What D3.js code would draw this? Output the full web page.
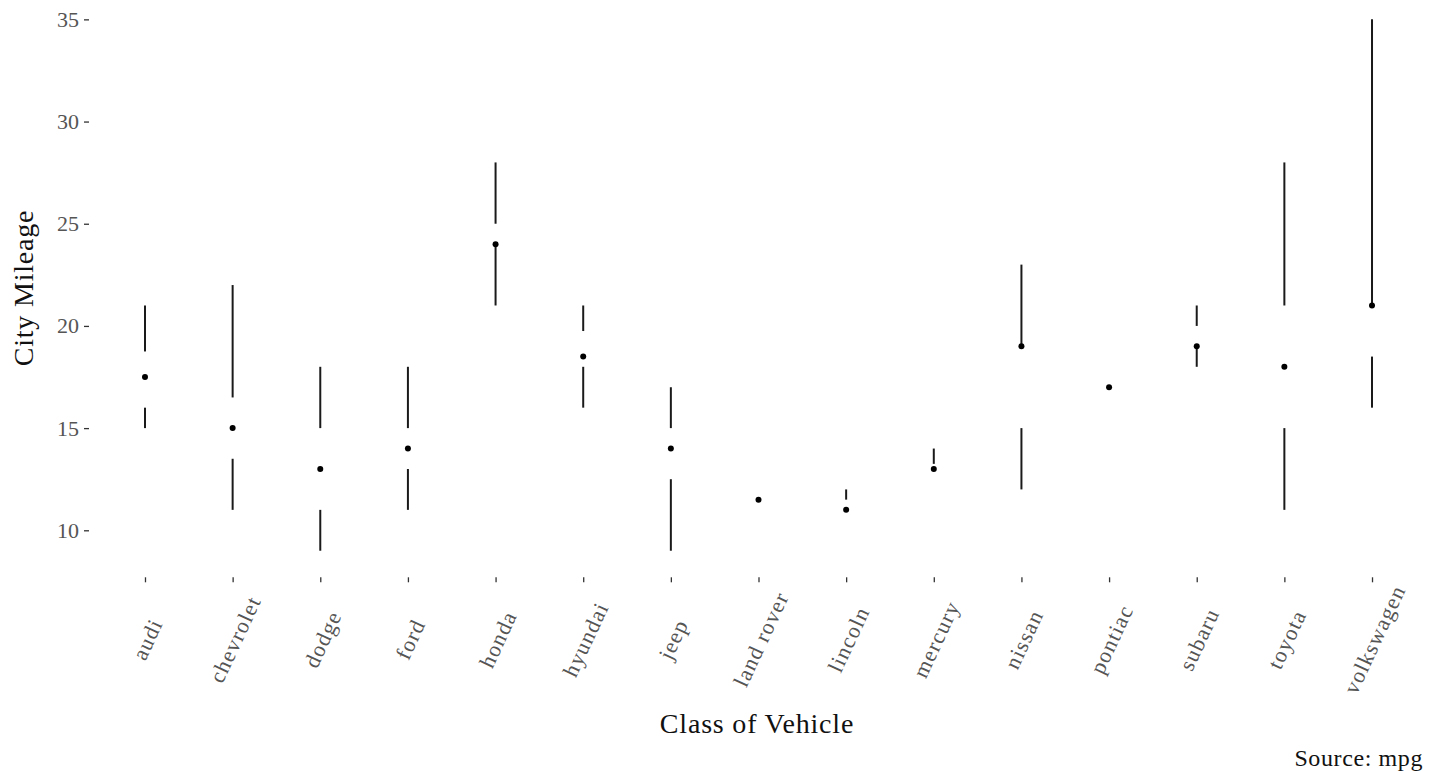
<!DOCTYPE html>
<html>
<head>
<meta charset="utf-8">
<script src="https://cdn.jsdelivr.net/npm/d3@7"></script>
<style>
  html, body { margin: 0; padding: 0; background: #fff; }
  svg { display: block; }
  text { font-family: "Liberation Serif", "Times New Roman", serif; }
</style>
</head>
<body>
<svg id="chart" width="1429" height="771"></svg>
<script>
// Data: five-number summaries of city mileage by manufacturer
const manufacturers = ["audi","chevrolet","dodge","ford","honda","hyundai","jeep","land rover","lincoln","mercury","nissan","pontiac","subaru","toyota","volkswagen"];
const ctyMin    = [15, 11,  9, 11, 21, 16,    9, 11,   11, 13,    12, 17, 18, 11, 16];
const ctyQ1     = [16, 13.5, 11, 13, 24, 18, 12.5, 11,   11, 13,    15, 17, 19, 15, 18.5];
const ctyMedian = [17.5, 15, 13, 14, 24, 18.5, 14, 11.5, 11, 13,   19, 17, 19, 18, 21];
const ctyQ3     = [18.75, 16.5, 15, 15, 25, 19.75, 15, 12, 11.5, 13.25, 19, 17, 20, 21, 21];
const ctyMax    = [21, 22, 18, 18, 28, 21,   17, 12,   12, 14,    23, 17, 21, 28, 35];
const yTicks = [10, 15, 20, 25, 30, 35];

const svg = d3.select("#chart");

const x = d3.scalePoint().domain(manufacturers).range([92.4, 1424.6]).padding(0.6);
// y: data range 9–35 expanded by 5%
const y = d3.scaleLinear().domain([7.7, 36.3]).range([577.3, -7.2]);

const data = manufacturers.map((m, i) => ({
  m, min: ctyMin[i], q1: ctyQ1[i], med: ctyMedian[i], q3: ctyQ3[i], max: ctyMax[i]
}));

// Y axis
const yAxis = d3.axisLeft(y).tickValues(yTicks).tickSize(5).tickPadding(5);
const gy = svg.append("g").attr("transform", "translate(89,0)").call(yAxis);
gy.select(".domain").remove();
gy.selectAll(".tick line").attr("stroke", "#333").attr("stroke-width", 1.3);
gy.selectAll(".tick text").attr("fill", "#555").style("font-size", "22px")
  .style("font-family", "'Liberation Serif', serif");

// X axis
const xAxis = d3.axisBottom(x).tickSize(5).tickPadding(0);
const gx = svg.append("g").attr("transform", `translate(0,${y(7.7)})`).call(xAxis);
gx.select(".domain").remove();
gx.selectAll(".tick line").attr("stroke", "#333").attr("stroke-width", 1.3);
gx.selectAll(".tick text")
  .attr("fill", "#555").style("font-size", "22px")
  .style("letter-spacing", "1.2px")
  .style("font-family", "'Liberation Serif', serif")
  .attr("text-anchor", "middle").attr("dy", null).attr("y", null)
  .attr("dominant-baseline", "central")
  .attr("transform", "translate(2,62) rotate(-65)");

// Tufte boxplot marks
const g = svg.append("g");
g.selectAll("line.low").data(data).join("line").attr("class", "low")
  .attr("x1", d => x(d.m)).attr("x2", d => x(d.m))
  .attr("y1", d => y(d.min)).attr("y2", d => y(d.q1))
  .attr("stroke", "#1a1a1a").attr("stroke-width", 2);
g.selectAll("line.high").data(data).join("line").attr("class", "high")
  .attr("x1", d => x(d.m)).attr("x2", d => x(d.m))
  .attr("y1", d => y(d.q3)).attr("y2", d => y(d.max))
  .attr("stroke", "#1a1a1a").attr("stroke-width", 2);
g.selectAll("circle").data(data).join("circle")
  .attr("cx", d => x(d.m)).attr("cy", d => y(d.med)).attr("r", 3)
  .attr("fill", "#000");

// Titles
svg.append("text").attr("x", 757).attr("y", 733).attr("text-anchor", "middle")
  .style("font-size", "28px").style("letter-spacing", "0.8px").attr("fill", "#111").text("Class of Vehicle");
svg.append("text").attr("transform", "translate(33,288) rotate(-90)").attr("text-anchor", "middle")
  .style("font-size", "28px").style("letter-spacing", "0.8px").attr("fill", "#111").text("City Mileage");
svg.append("text").attr("x", 1423).attr("y", 766).attr("text-anchor", "end")
  .style("font-size", "24px").style("letter-spacing", "0.6px").attr("fill", "#111").text("Source: mpg");
</script>
</body>
</html>
